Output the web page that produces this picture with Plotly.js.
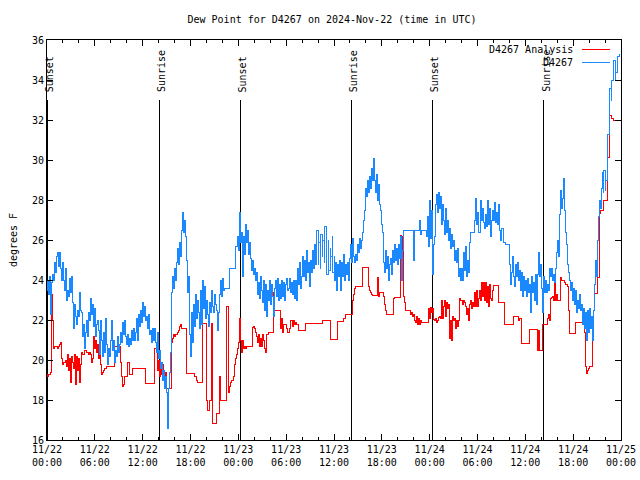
<!DOCTYPE html>
<html><head><meta charset="utf-8">
<script src="https://cdn.plot.ly/plotly-3.0.1.min.js"></script>
<style>html,body{margin:0;padding:0;background:#fff}#chart{width:640px;height:480px}
#chart .scatterlayer path.js-line, #chart .layer-above path, #chart .shapelayer path{shape-rendering:crispEdges}</style>
</head><body><div id="chart"></div>
<script>
// Observations sampled every 7.5 minutes from 2024-11-22 00:00 UTC
const sampleStart = Date.UTC(2024, 10, 22, 0, 0);
const sampleMinutes = 7.5;

// D4267 Analysis (red), degrees F
const analysisDew = [
19.3,19.2,19.3,19.3,19.4,23.3,22.0,20.6,20.7,20.7,
20.7,20.6,20.7,20.8,20.9,20.1,19.8,19.9,19.9,20.0,
19.7,20.3,19.5,20.1,18.9,20.2,19.9,19.6,20.3,18.8,
20.2,19.5,20.1,18.9,19.8,20.4,20.3,20.3,20.5,20.5,
20.4,20.4,20.3,20.4,20.3,19.9,20.1,21.2,20.6,21.0,
20.4,20.8,20.1,20.5,19.8,19.3,19.4,19.5,19.6,19.6,
19.7,19.7,19.7,19.7,19.7,19.7,19.7,19.7,20.7,20.7,
20.7,20.7,20.7,20.7,19.9,19.2,18.7,18.8,19.2,19.2,
19.2,19.9,19.9,19.3,19.3,19.3,19.6,19.6,19.6,19.6,
19.6,19.6,19.6,19.6,19.6,19.6,19.6,19.6,19.6,18.85,
18.85,18.85,18.85,18.85,18.85,18.85,18.85,18.85,20.6,20.6,
20.5,19.5,20.0,19.2,19.8,19.3,19.8,19.5,19.1,19.4,
18.6,18.6,18.6,18.6,18.6,20.9,21.1,21.3,21.2,21.3,
21.3,21.4,21.5,21.7,21.8,21.6,21.6,21.6,21.6,21.6,
19.35,19.35,19.35,19.35,19.35,19.35,19.35,19.35,19.2,19.2,
19.0,18.9,18.9,18.9,18.9,18.9,21.85,21.85,21.85,21.85,
18.0,17.5,17.5,18.0,18.0,21.85,16.85,16.85,16.85,16.85,
17.35,17.35,17.35,19.2,18.0,18.0,18.0,18.0,18.0,18.0,
22.7,22.7,18.4,18.7,18.9,19.0,19.0,19.2,19.8,20.1,
20.3,20.6,20.9,22.1,21.0,20.4,21.0,20.6,20.7,20.6,
20.7,20.7,20.7,20.7,20.7,20.7,21.65,21.7,21.6,21.4,
21.2,20.9,21.3,20.7,21.1,20.7,21.3,21.0,20.6,20.4,
21.3,21.3,21.4,21.4,21.4,21.4,21.4,23.4,22.5,22.5,
22.5,22.5,22.5,22.5,21.6,22.1,21.4,21.8,21.8,21.8,
21.6,21.4,21.4,21.6,22.0,22.0,21.7,22.0,21.8,21.9,
21.8,21.8,21.5,21.5,21.5,21.5,21.5,21.5,21.5,21.85,
21.85,21.85,21.85,21.85,21.85,21.85,21.85,21.85,21.85,21.85,
21.85,21.85,21.85,21.85,21.85,21.85,22.0,22.0,22.0,22.0,
22.0,22.0,22.0,22.0,21.05,21.05,21.05,21.05,21.05,21.05,
21.05,21.05,21.95,21.95,21.95,21.95,21.95,21.95,22.1,22.1,
22.3,22.3,22.3,22.3,22.3,22.3,22.3,23.0,23.3,23.6,
23.7,23.7,23.7,23.7,23.7,23.7,23.7,24.65,24.65,24.65,
24.65,24.65,24.65,23.7,23.5,23.4,23.3,23.25,23.25,23.25,
23.25,23.25,24.15,23.2,23.4,23.4,23.4,23.4,23.2,22.8,
22.5,22.3,22.3,22.3,22.3,22.3,22.3,22.3,23.1,23.15,
23.15,23.15,23.15,23.15,23.15,26.25,24.5,26.2,23.2,22.9,
22.5,22.5,22.5,22.5,22.5,22.3,22.4,22.2,22.3,22.0,
21.9,22.2,21.8,22.1,21.8,22.0,21.9,21.9,21.9,21.9,
21.9,21.9,21.9,22.6,22.1,22.65,22.4,22.6,22.05,22.0,
22.1,21.9,22.0,22.15,22.2,22.1,23.0,22.1,22.7,23.0,
22.2,22.9,22.6,22.8,21.1,22.0,21.0,22.2,22.0,22.1,
21.6,22.0,21.7,22.0,23.1,23.0,23.0,22.8,23.0,22.9,
22.7,22.3,22.6,22.0,22.8,23.0,22.6,22.9,22.7,23.4,
22.7,23.5,22.7,23.1,23.5,23.0,23.9,23.2,23.9,23.0,
23.9,22.9,23.7,22.7,23.8,23.1,23.0,23.5,23.75,23.75,
23.75,23.75,23.75,22.9,22.9,22.9,22.9,22.9,22.9,21.8,
21.8,21.8,21.8,21.8,21.8,21.8,21.8,21.8,22.2,22.2,
22.2,22.2,22.2,22.0,22.1,22.1,20.85,20.85,20.85,20.85,
20.85,20.85,20.85,20.85,21.55,21.55,21.55,21.55,21.55,21.55,
21.55,21.55,20.5,21.5,20.5,20.5,20.5,21.8,21.8,21.8,
21.8,21.8,22.1,22.3,22.0,23.1,23.15,23.2,23.0,24.3,
23.0,23.3,23.0,23.0,23.0,24.15,24.0,24.0,24.0,23.9,
23.8,23.8,23.7,22.5,21.35,21.35,21.35,21.35,21.35,21.35,
21.9,21.9,21.9,21.9,21.9,21.9,21.9,21.9,21.9,21.4,
19.7,19.35,19.5,19.6,19.7,19.7,19.7,22.0,22.5,23.35,
23.35,23.35,24.15,24.15,27.35,27.5,27.5,27.5,27.5,28.0,
28.0,28.0,30.15,30.15,32.25,32.25,32.15,32.1,32.0,32.0,
32.0,32.0,32.0,32.0,32.0,32.0
];

// D4267 station (blue), degrees F
const stationDew = [
23.5,24.0,23.3,24.2,22.3,23.9,24.3,24.0,24.9,24.4,
25.2,25.4,24.7,25.4,24.6,24.0,24.9,24.0,23.5,24.6,
23.0,23.5,23.2,24.1,23.4,24.2,22.9,21.6,22.8,22.2,
21.8,22.5,22.2,23.4,22.5,22.4,21.2,21.8,20.6,21.4,
22.0,21.2,22.4,22.0,23.1,22.3,22.8,21.7,22.6,21.2,
21.8,22.0,21.5,20.3,22.0,21.0,20.2,21.4,20.4,22.1,
20.8,19.8,20.6,20.2,21.0,22.0,20.5,21.0,19.9,20.5,
20.2,21.2,20.4,20.8,21.4,20.9,21.9,21.3,22.0,21.2,
20.8,21.3,20.7,21.1,20.8,21.5,21.0,21.6,21.0,21.4,
22.1,21.0,22.3,21.7,22.5,21.9,22.9,22.2,22.7,22.0,
22.2,21.6,22.3,21.3,21.5,20.9,21.6,21.0,21.6,20.9,
20.4,21.4,20.1,20.5,19.6,19.9,19.0,19.5,18.6,19.2,
18.4,16.6,18.6,19.4,20.4,23.4,24.2,23.6,24.6,24.0,
24.9,25.6,24.8,25.9,25.2,26.5,27.4,26.4,27.0,26.2,
25.0,23.4,24.2,21.3,20.2,22.4,20.9,22.8,21.7,23.3,
22.1,23.0,22.4,21.6,23.5,21.8,24.0,22.6,23.7,22.1,
23.0,22.3,21.7,22.9,22.4,23.5,22.7,22.4,23.3,22.8,
22.5,21.5,22.4,23.3,24.0,23.2,24.1,23.5,23.6,23.6,
23.6,23.6,23.6,24.6,24.6,24.6,24.6,24.6,24.6,25.7,
25.7,26.2,25.5,27.4,25.9,26.4,24.2,26.2,25.3,26.8,
25.9,26.5,25.3,25.9,25.1,24.5,25.0,24.3,24.6,24.0,
24.4,23.3,23.9,23.1,24.2,23.5,22.9,24.0,22.5,23.8,
22.2,23.5,23.0,24.0,22.8,23.8,23.2,22.2,23.6,24.0,
23.2,24.1,23.0,23.8,23.1,24.0,23.2,23.9,23.0,23.8,
24.1,23.5,23.6,24.1,23.4,23.9,23.3,24.0,23.1,24.0,
23.0,24.6,23.8,24.9,23.6,24.2,25.2,24.2,25.0,24.0,
25.5,24.4,24.9,23.7,25.0,24.4,25.5,24.6,25.8,24.8,
25.4,26.5,24.8,25.9,24.6,26.3,25.2,26.0,24.9,26.7,
25.3,24.3,26.0,24.5,25.6,25.2,26.2,24.4,25.2,24.0,
24.9,23.5,24.8,24.2,25.0,23.5,24.9,24.2,25.3,24.0,
24.8,24.3,24.9,24.0,25.1,25.8,24.9,26.1,25.2,24.9,
25.3,25.0,25.8,25.4,26.1,25.6,26.0,26.4,27.0,27.5,
28.6,28.2,29.0,28.4,29.2,28.6,29.6,29.0,30.1,29.0,
28.4,29.3,28.0,28.8,27.8,27.5,26.8,26.4,24.9,24.4,
25.5,24.6,25.2,24.0,24.8,25.1,24.3,25.5,24.9,25.8,
25.0,25.6,24.8,25.8,25.1,26.2,24.0,25.5,26.5,26.5,
26.5,26.5,26.5,26.5,26.5,26.5,26.5,26.5,25.0,26.5,
26.5,26.5,26.5,26.5,27.0,26.3,26.5,26.5,26.5,26.5,
26.5,26.2,27.2,25.7,28.0,26.1,27.5,24.3,25.8,26.2,
27.8,28.3,27.4,28.4,27.6,28.2,26.8,27.8,27.0,26.3,
27.6,26.4,27.0,26.0,26.6,25.6,26.3,25.7,26.0,25.0,
25.5,24.9,25.6,24.2,24.6,24.0,24.6,24.0,25.4,24.5,
25.7,24.2,25.0,24.4,25.9,26.4,26.4,26.4,26.4,27.0,
28.1,26.8,27.4,26.4,26.4,28.0,27.0,27.6,26.9,26.6,
27.3,26.7,28.0,26.8,27.6,26.2,27.0,27.5,27.0,27.9,
26.9,27.4,26.8,27.8,26.5,26.0,26.6,26.6,25.9,25.9,
25.8,25.8,25.8,25.8,24.8,23.8,24.4,25.2,24.2,23.7,
24.8,24.2,24.9,24.0,24.5,23.5,24.4,23.2,24.2,23.5,
24.0,23.2,24.1,23.4,23.8,22.4,24.2,23.4,23.9,23.0,
24.3,22.8,24.3,25.4,24.2,24.8,23.6,22.4,24.2,23.4,
24.0,23.4,23.8,23.5,24.6,24.2,24.6,24.0,24.3,23.9,
24.6,25.4,26.0,25.2,27.3,28.5,27.6,28.1,29.1,27.5,
26.4,25.8,24.8,24.4,24.0,23.5,23.9,23.0,23.6,22.8,
23.5,22.4,23.0,22.6,23.3,22.5,22.8,21.8,22.6,21.6,
22.4,21.0,22.5,21.4,22.6,21.6,22.2,21.0,22.5,23.8,
25.0,24.2,26.0,27.2,28.0,27.6,28.6,29.4,28.4,29.5,
28.5,29.0,30.0,31.3,32.4,33.6,33.0,34.0,34.8,35.0,
34.0,34.4,35.0,35.2,35.3,35.3
];

// Sunrise / sunset markers (UTC)
const sunEventTimes = ['2024-11-22 00:02','2024-11-22 14:03','2024-11-23 00:16','2024-11-23 14:10','2024-11-24 00:20','2024-11-24 14:18'];
const sunEventLabels = ['Sunset','Sunrise','Sunset','Sunrise','Sunset','Sunrise'];
const sunLineTop = 33;
const yRange = [16, 36];
const xRange = ['2024-11-22 00:00','2024-11-25 00:00'];

function fmt(ms){ return new Date(ms).toISOString().slice(0,16).replace('T',' '); }
function timesFor(arr){ return arr.map((_, i) => fmt(sampleStart + i*sampleMinutes*60000)); }

const evX = [], evY = [];
sunEventTimes.forEach(t => { evX.push(t, t, null); evY.push(sunLineTop, yRange[0], null); });

const font = 'DejaVu Sans Mono, monospace';
const blue = '#1a88ff';
const data = [
  {type:'scatter', mode:'lines', x: evX, y: evY, line:{color:'#000', width:1}, hoverinfo:'skip', showlegend:false},
  {type:'scatter', mode:'lines', name:'D4267 Analysis', x: timesFor(analysisDew), y: analysisDew, line:{color:'#ff0000', width:1, shape:'hv'}},
  {type:'scatter', mode:'lines', name:'D4267', x: timesFor(stationDew), y: stationDew, line:{color:blue, width:1, shape:'hv'}}
];

const annotations = sunEventTimes.map((t, i) => ({
  x: t, y: sunLineTop, xref:'x', yref:'y', text: sunEventLabels[i], textangle:-90,
  showarrow:false, xanchor:'center', yanchor:'bottom', yshift:6, xshift:2,
  font:{family:font, size:10, color:'#000'}
}));
annotations.push(
  {xref:'paper', yref:'paper', x:0.919, y:0.976, xanchor:'right', yanchor:'middle', text:'D4267 Analysis', showarrow:false, font:{family:font, size:10, color:'#000'}},
  {xref:'paper', yref:'paper', x:0.919, y:0.943, xanchor:'right', yanchor:'middle', text:'D4267', showarrow:false, font:{family:font, size:10, color:'#000'}}
);
const shapes = [
  {type:'line', xref:'paper', yref:'paper', x0:0.932, x1:0.981, y0:0.977, y1:0.977, line:{color:'#ff0000', width:1}},
  {type:'line', xref:'paper', yref:'paper', x0:0.932, x1:0.981, y0:0.945, y1:0.945, line:{color:blue, width:1}}
];

const axisCommon = {showline:true, linecolor:'#000', linewidth:1, mirror:'ticks', ticks:'inside', ticklen:6, tickcolor:'#000', showgrid:false, zeroline:false, tickfont:{family:font, size:10, color:'#000'}};

const layout = {
  width:640, height:480,
  margin:{l:47, r:19, t:40, b:40},
  paper_bgcolor:'#fff', plot_bgcolor:'#fff',
  font:{family:font, size:10, color:'#000'},
  showlegend:false,
  title:{text:'Dew Point for D4267 on 2024-Nov-22 (time in UTC)', xref:'paper', x:0.4965, xanchor:'center', yref:'container', y:1-19/480, yanchor:'middle', font:{family:font, size:10, color:'#000'}},
  xaxis: Object.assign({}, axisCommon, {type:'date', range:xRange, tick0:xRange[0], dtick:6*3600000, tickformat:'%m/%d<br>%H:%M',
    minor:{dtick:2*3600000, ticks:'inside', ticklen:3, tickcolor:'#000', showgrid:false}}),
  yaxis: Object.assign({}, axisCommon, {range:yRange, tick0:16, dtick:2, title:{text:'degrees F', standoff:12, font:{family:font, size:10, color:'#000'}}}),
  annotations, shapes
};

Plotly.newPlot('chart', data, layout, {displayModeBar:false, staticPlot:true});
</script>
</body></html>
